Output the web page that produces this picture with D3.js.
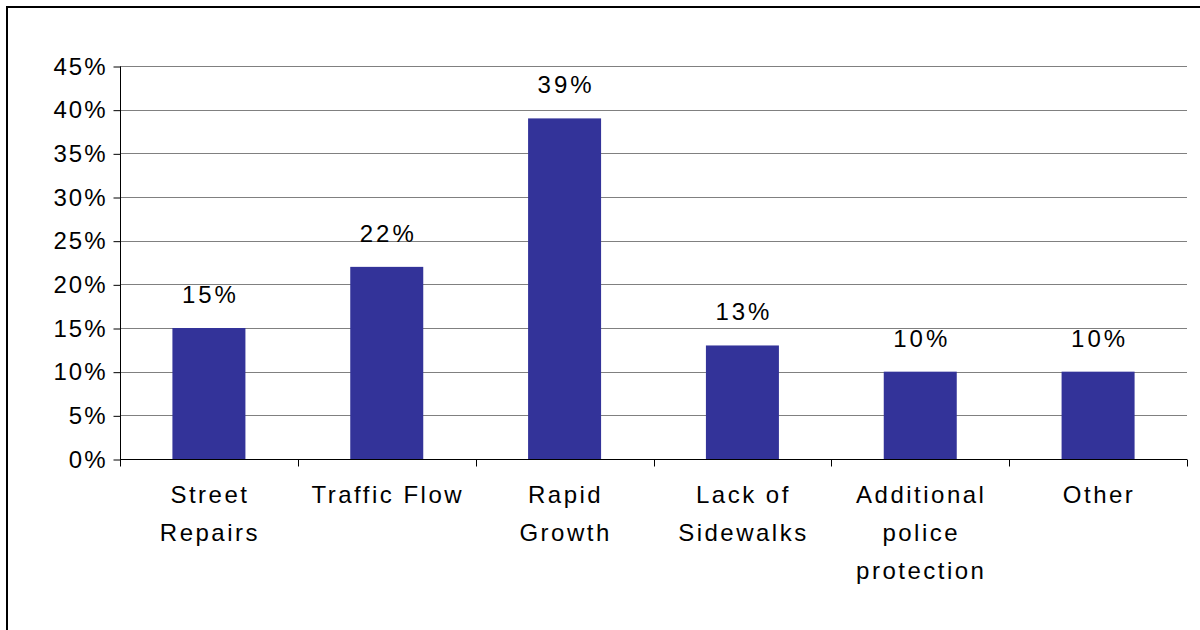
<!DOCTYPE html>
<html>
<head>
<meta charset="utf-8">
<script src="https://cdn.jsdelivr.net/npm/d3@7"></script>
<style>
  body { margin: 0; background: #fff; }
  text { font-family: "Liberation Sans", Arial, sans-serif; fill: #000; }
</style>
</head>
<body>
<svg id="chart" width="1200" height="630"></svg>
<script>
// Chart data.
var categories = ['Street Repairs', 'Traffic Flow', 'Rapid Growth', 'Lack of Sidewalks', 'Additional police protection', 'Other'];
var categoryLines = [['Street', 'Repairs'], ['Traffic Flow'], ['Rapid', 'Growth'], ['Lack of', 'Sidewalks'], ['Additional', 'police', 'protection'], ['Other']];
var values = [15, 22, 39, 13, 10, 10];
var yTicks = [0, 5, 10, 15, 20, 25, 30, 35, 40, 45];

var svg = d3.select('#chart');

// Outer frame (runs off the right and bottom edges).
svg.append('rect')
  .attr('x', 7).attr('y', 7)
  .attr('width', 1300).attr('height', 700)
  .style('fill', 'none').style('stroke', '#000').style('stroke-width', 2);

var plotLeft = 120, plotRight = 1187, plotTop = 66, plotBottom = 459;

var x = d3.scaleBand().domain(categories).range([plotLeft, plotRight]).paddingInner(0).paddingOuter(0);
var y = d3.scaleLinear().domain([0, 45]).range([plotBottom, plotTop]);
var barWidth = 73;

// Gridlines.
svg.append('g').selectAll('line').data(yTicks.filter(d => d > 0)).enter().append('line')
  .attr('x1', plotLeft).attr('x2', plotRight)
  .attr('y1', d => Math.round(y(d)) + 0.5).attr('y2', d => Math.round(y(d)) + 0.5)
  .style('stroke', '#808080').style('stroke-width', 1);

// Bars.
svg.append('g').selectAll('rect').data(values).enter().append('rect')
  .attr('x', (d, i) => x(categories[i]) + x.bandwidth() / 2 - barWidth / 2)
  .attr('y', d => y(d))
  .attr('width', barWidth)
  .attr('height', d => plotBottom - y(d))
  .style('fill', '#333399');

// Value labels.
svg.append('g').selectAll('text').data(values).enter().append('text')
  .attr('x', (d, i) => x(categories[i]) + x.bandwidth() / 2 + 1.5)
  .attr('y', d => y(d) - 25)
  .style('text-anchor', 'middle')
  .style('font-size', '24px')
  .style('letter-spacing', '3px')
  .text(d => d + '%');

// Y axis.
var yAxis = d3.axisLeft(y).tickValues(yTicks).tickSize(7).tickPadding(6).tickFormat(d => d + '%');
var gy = svg.append('g').attr('transform', 'translate(' + (plotLeft + 0.5) + ',0.5)').call(yAxis);
gy.select('.domain').attr('d', 'M0,' + plotTop + 'V' + plotBottom);
gy.selectAll('line').style('stroke', '#000');
gy.selectAll('text')
  .style('font-size', '24px')
  .style('letter-spacing', '2px')
  .style('font-family', '"Liberation Sans", Arial, sans-serif');

// X axis line and category ticks.
var gx = svg.append('g').attr('transform', 'translate(0,' + (plotBottom + 0.5) + ')');
gx.append('line').attr('x1', plotLeft).attr('x2', plotRight).style('stroke', '#000');
var bounds = categories.map(c => x(c)).concat([plotRight]);
gx.selectAll('line.tick').data(bounds).enter().append('line')
  .attr('class', 'tick')
  .attr('x1', d => Math.round(d) + 0.5).attr('x2', d => Math.round(d) + 0.5)
  .attr('y1', 0).attr('y2', 7)
  .style('stroke', '#000');

// Category labels.
var labels = svg.append('g').selectAll('text').data(categoryLines).enter().append('text')
  .attr('y', 503)
  .style('text-anchor', 'middle')
  .style('font-size', '24px')
  .style('letter-spacing', '2.5px');
labels.each(function(lines, i) {
  var cx = x(categories[i]) + x.bandwidth() / 2 + 1;
  d3.select(this).selectAll('tspan').data(lines).enter().append('tspan')
    .attr('x', cx)
    .attr('dy', (d, j) => j === 0 ? 0 : 38)
    .text(d => d);
});
</script>
</body>
</html>
